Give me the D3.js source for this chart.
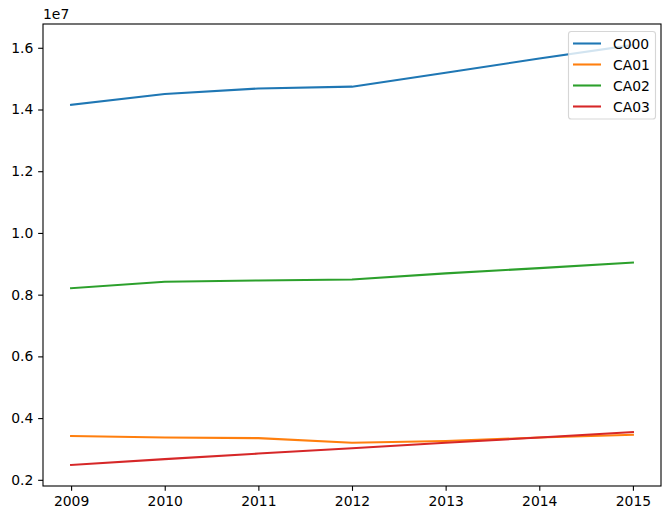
<!DOCTYPE html>
<html><head><meta charset="utf-8">
<script src="https://cdn.jsdelivr.net/npm/d3@7"></script>
<style>body{margin:0;background:#fff}svg{display:block}text{font-family:"DejaVu Sans",sans-serif}</style>
</head><body><svg id="c" width="671" height="520"></svg>
<script>
const years = [2009, 2010, 2011, 2012, 2013, 2014, 2015];
const seriesNames = ["C000", "CA01", "CA02", "CA03"];
const C000 = [14.15e6, 14.50e6, 14.68e6, 14.74e6, 15.19e6, 15.65e6, 16.09e6];
const CA01 = [3.42e6, 3.37e6, 3.35e6, 3.20e6, 3.26e6, 3.37e6, 3.46e6];
const CA02 = [8.21e6, 8.42e6, 8.46e6, 8.49e6, 8.69e6, 8.86e6, 9.04e6];
const CA03 = [2.48e6, 2.67e6, 2.85e6, 3.02e6, 3.20e6, 3.37e6, 3.55e6];
const yTicks = [0.2, 0.4, 0.6, 0.8, 1.0, 1.2, 1.4, 1.6];
const colors = ["#1f77b4", "#ff7f0e", "#2ca02c", "#d62728"];

const series = [C000, CA01, CA02, CA03];
const L = 43, R = 661, T = 24, B = 486;
const svg = d3.select("#c");
const x = d3.scaleLinear().domain([2008.7, 2015.3]).range([L, R]);
const allV = series.flat();
const ymin = d3.min(allV), ymax = d3.max(allV), pad = (ymax - ymin) * 0.05;
const y = d3.scaleLinear().domain([ymin - pad, ymax + pad]).range([B, T]);

const line = d3.line().x((d, i) => x(years[i])).y(d => y(d));
series.forEach((s, k) => {
  svg.append("path").datum(s).attr("d", line).attr("fill", "none")
    .attr("stroke", colors[k]).attr("stroke-width", 2.08)
    .attr("stroke-linejoin", "round").attr("stroke-linecap", "square");
});

const xAxis = d3.axisBottom(x).tickValues(years).tickFormat(d3.format("d")).tickSize(4.86).tickPadding(4.86);
const gx = svg.append("g").attr("transform", `translate(0,${B})`).call(xAxis);
const yAxis = d3.axisLeft(y).tickValues(yTicks.map(v => v * 1e7)).tickFormat(v => d3.format(".1f")(v / 1e7)).tickSize(4.86).tickPadding(4.86);
const gy = svg.append("g").attr("transform", `translate(${L},0)`).call(yAxis);
[gx, gy].forEach(g => {
  g.select(".domain").remove();
  g.selectAll(".tick line").attr("stroke", "#000").attr("stroke-width", 1.1);
  g.selectAll(".tick text").attr("fill", "#000").style("font-size", "13.9px").style("font-family", "DejaVu Sans");
});

svg.append("rect").attr("x", L).attr("y", T).attr("width", R - L).attr("height", B - T)
  .attr("fill", "none").attr("stroke", "#000").attr("stroke-width", 1.1);

svg.append("text").attr("x", L).attr("y", 19).text("1e7").style("font-size", "13.9px").attr("fill", "#000");

// legend
const lg = svg.append("g");
lg.append("rect").attr("x", 568.5).attr("y", 31.5).attr("width", 87).attr("height", 87.5)
  .attr("rx", 2.8).attr("fill", "#fff").attr("fill-opacity", 0.8)
  .attr("stroke", "#ccc").attr("stroke-opacity", 0.8).attr("stroke-width", 1.1);
seriesNames.forEach((n, k) => {
  const yy = 43.5 + k * 21;
  lg.append("line").attr("x1", 573).attr("x2", 601).attr("y1", yy).attr("y2", yy)
    .attr("stroke", colors[k]).attr("stroke-width", 2.08);
  lg.append("text").attr("x", 613).attr("y", yy + 5).text(n).style("font-size", "13.9px").attr("fill", "#000");
});
</script></body></html>
